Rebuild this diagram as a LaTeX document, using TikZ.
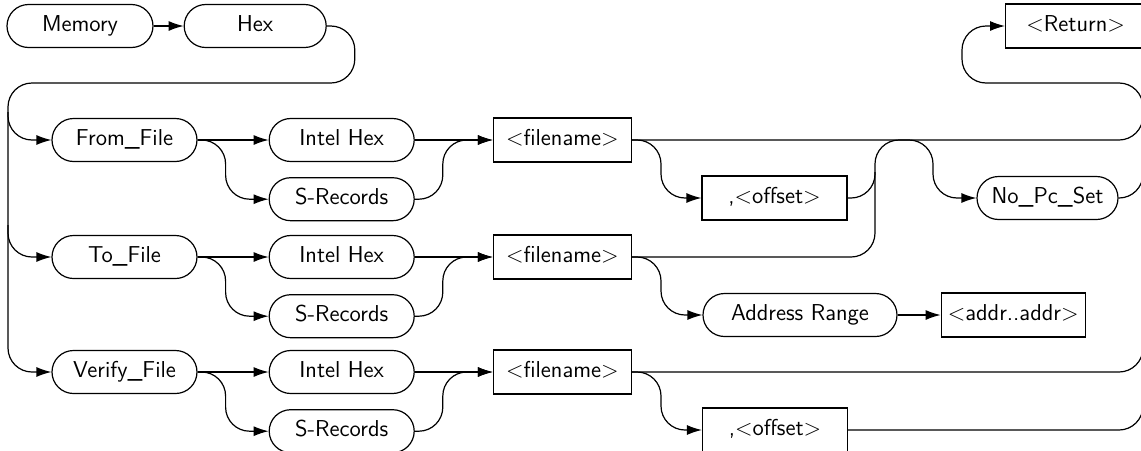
\documentclass[tikz,border=0pt]{standalone}
\usepackage{fontspec}
\usetikzlibrary{arrows.meta, positioning}

\begin{document}
\begin{tikzpicture}[
  x=0.5pt, y=-0.5pt,
  font=\sffamily\fontsize{11.5}{13}\selectfont\addfontfeatures{LetterSpace=8, WordSpace=2},
  pill/.style={rectangle, draw, rounded corners=10.75pt, line width=0.6pt,
               minimum width=72.5pt, minimum height=21.5pt, inner sep=0pt,
               text height=7.5pt, text depth=2pt},
  rbox/.style={rectangle, draw, line width=0.6pt,
               minimum width=69pt, minimum height=22pt, inner sep=0pt,
               text height=7.5pt, text depth=2pt},
  line/.style={line width=0.6pt, rounded corners=12pt},
  arrow/.style={line, -{Latex[length=7.5pt, width=5pt]}},
]
  \useasboundingbox (0,0) rectangle (1141,450);

  % header
  \node[pill, minimum width=73pt] (mem) at (80,26) {Memory};
  \node[pill, minimum width=71pt, right=15pt of mem] (hex) {Hex};
  \node[rbox, minimum width=76pt, anchor=west] (ret) at (1005,26) {\hspace*{-6pt}<Return>};

  % From_File
  \node[pill] (ffile) at (124.5,140) {From\_File};
  \node[pill, right=35.5pt of ffile] (fih) {Intel Hex};
  \node[pill, below=7.5pt of fih] (fsr) {S-Records};
  \node[rbox, right=39pt of fih] (ffn) {<filename>};
  \node[rbox, minimum width=72.5pt] (foff) at (774.5,198) {,<offset>};
  \node[pill, minimum width=70.5pt] (nopc) at (1047.5,198) {No\_Pc\_Set};

  % To_File
  \node[pill] (tfile) at (124.5,257) {To\_File};
  \node[pill, right=35.5pt of tfile] (tih) {Intel Hex};
  \node[pill, below=7.5pt of tih] (tsr) {S-Records};
  \node[rbox, right=39pt of tih] (tfn) {<filename>};
  \node[pill, minimum width=97pt] (addr) at (800,315) {Address Range};
  \node[rbox, minimum width=72pt, right=21.5pt of addr] (range) {<addr..addr>};

  % Verify_File
  \node[pill] (vfile) at (124.5,372) {Verify\_File};
  \node[pill, right=35.5pt of vfile] (vih) {Intel Hex};
  \node[pill, below=7.5pt of vih] (vsr) {S-Records};
  \node[rbox, right=39pt of vih] (vfn) {<filename>};
  \node[rbox, minimum width=72.5pt] (voff) at (775,430) {,<offset>};

  \coordinate (lr1) at (8,112);
  \coordinate (lr2) at (8,225);
  \coordinate (mrg) at (875,140);
  \coordinate (mrgb) at (875,172);
  \coordinate (spl) at (933,140);
  \coordinate (rail) at (1143,140);
  \coordinate (rtop) at (1143,116);

  \draw[arrow] (mem) -- (hex);
  \draw[arrow] (hex.east) -- ++(28,0) |- (8,83) |- (vfile.west);
  \draw[arrow] (lr1) |- (ffile.west);
  \draw[arrow] (lr2) |- (tfile.west);

  \draw[arrow] (ffile) -- (fih);
  \draw[arrow] (ffile.east) -- ++(28,0) |- (fsr.west);
  \draw[arrow] (fih) -- (ffn);
  \draw[arrow] (fsr.east) -- ++(28,0) |- (ffn.west);
  \draw[arrow] (ffn.east) -- ++(29,0) |- (foff.west);
  \draw[arrow] (ffn.east) -- (rail) |- (962,83) |- (ret.west);
  \draw[arrow] (foff.east) -| (mrg) -- (spl) |- (nopc.west);
  \draw[line] (nopc.east) -| (rtop);

  \draw[arrow] (tfile) -- (tih);
  \draw[arrow] (tfile.east) -- ++(28,0) |- (tsr.west);
  \draw[arrow] (tih) -- (tfn);
  \draw[arrow] (tsr.east) -- ++(28,0) |- (tfn.west);
  \draw[arrow] (tfn.east) -- ++(29,0) |- (addr.west);
  \draw[arrow] (addr) -- (range);
  \draw[line] (tfn.east) -| (mrgb);

  \draw[arrow] (vfile) -- (vih);
  \draw[arrow] (vfile.east) -- ++(28,0) |- (vsr.west);
  \draw[arrow] (vih) -- (vfn);
  \draw[arrow] (vsr.east) -- ++(28,0) |- (vfn.west);
  \draw[arrow] (vfn.east) -- ++(29,0) |- (voff.west);
  \draw[line] (vfn.east) -| (rtop);
  \draw[line] (voff.east) -| (rtop);
\end{tikzpicture}
\end{document}
